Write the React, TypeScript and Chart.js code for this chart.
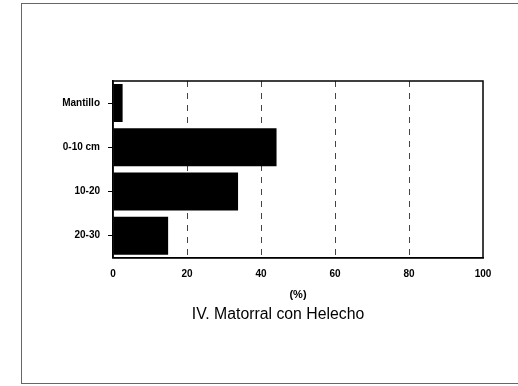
import React, { useEffect, useRef } from "react";
import { Chart, registerables } from "chart.js";

Chart.register(...registerables);

const categories = ["Mantillo", "0-10 cm", "10-20", "20-30"];
const percentValues = [2.6, 44.2, 33.8, 14.9];
const xTicks = [0, 20, 40, 60, 80, 100];
const axisTitle = "(%)";
const chartTitle = "IV. Matorral con Helecho";

const FONT = "'Liberation Sans', Arial, sans-serif";

// Solid frame around the plotting area (top and right sides included)
const plotFrame = {
  id: "plotFrame",
  afterDraw(chart: any) {
    const { ctx, chartArea } = chart;
    ctx.save();
    ctx.strokeStyle = "#000";
    ctx.lineWidth = 1.5;
    ctx.strokeRect(chartArea.left, chartArea.top, chartArea.right - chartArea.left, chartArea.bottom - chartArea.top);
    ctx.restore();
  },
};

export default function App() {
  const canvasRef = useRef<HTMLCanvasElement | null>(null);

  useEffect(() => {
    if (!canvasRef.current) return;
    const chart = new Chart(canvasRef.current, {
      type: "bar",
      data: {
        labels: categories,
        datasets: [
          {
            data: percentValues,
            backgroundColor: "#000",
            borderWidth: 0,
            barPercentage: 0.86,
            categoryPercentage: 1,
            yAxisID: "y",
          },
        ],
      },
      options: {
        indexAxis: "y",
        animation: false,
        responsive: false,
        devicePixelRatio: 1,
        layout: { padding: { left: 60, right: 22, top: 81, bottom: 62 } },
        plugins: {
          legend: { display: false },
          tooltip: { enabled: false },
          title: {
            display: true,
            position: "bottom",
            text: chartTitle,
            color: "#000",
            font: { family: FONT, size: 15.8, weight: "normal", lineHeight: 1.15 },
            padding: { top: 4, bottom: 0 },
          },
        },
        scales: {
          x: {
            type: "linear",
            min: 0,
            max: 100,
            afterBuildTicks: (scale: any) => {
              scale.ticks = xTicks.map((v) => ({ value: v }));
            },
            afterFit: (scale: any) => {
              scale.height = 44;
            },
            ticks: {
              color: "#000",
              padding: 10,
              maxRotation: 0,
              font: { family: FONT, size: 10, weight: "bold" },
            },
            grid: {
              drawTicks: false,
              color: (ctx: any) =>
                ctx.tick && (ctx.tick.value === 0 || ctx.tick.value === 100) ? "rgba(0,0,0,0)" : "#444",
              lineWidth: 1,
            },
            border: { display: true, color: "#000", width: 1.5, dash: [6, 6] },
            title: {
              display: true,
              text: axisTitle,
              color: "#000",
              font: { family: FONT, size: 11, weight: "bold", lineHeight: 1.2 },
              padding: { top: 0, bottom: 0 },
            },
          },
          y: {
            type: "category",
            position: "left",
            afterFit: (scale: any) => {
              scale.width = 53;
            },
            ticks: {
              color: "#000",
              padding: 8,
              font: { family: FONT, size: 10, weight: "bold" },
            },
            grid: {
              offset: false,
              drawOnChartArea: false,
              drawTicks: true,
              tickLength: 5,
              tickColor: "#000",
              color: "#000",
            },
            border: { display: true, color: "#000", width: 1.5 },
          },
          // empty right-hand spacer axis so the bottom title sits left of the plot centre
          yRight: {
            type: "category",
            position: "right",
            display: true,
            afterFit: (scale: any) => {
              scale.width = 13;
            },
            ticks: { display: false },
            grid: { display: false },
            border: { display: false },
          },
        },
      },
      plugins: [plotFrame],
    });
    return () => chart.destroy();
  }, []);

  return (
    <div style={{ position: "fixed", left: 0, top: 0, width: 518, height: 386, background: "#fff", overflow: "hidden" }}>
      <canvas ref={canvasRef} width={518} height={386} style={{ position: "absolute", left: 0, top: 0 }} />
      <div
        style={{
          position: "absolute",
          left: 21,
          top: 3,
          width: 520,
          height: 379,
          border: "1px solid #666",
          pointerEvents: "none",
        }}
      />
    </div>
  );
}
